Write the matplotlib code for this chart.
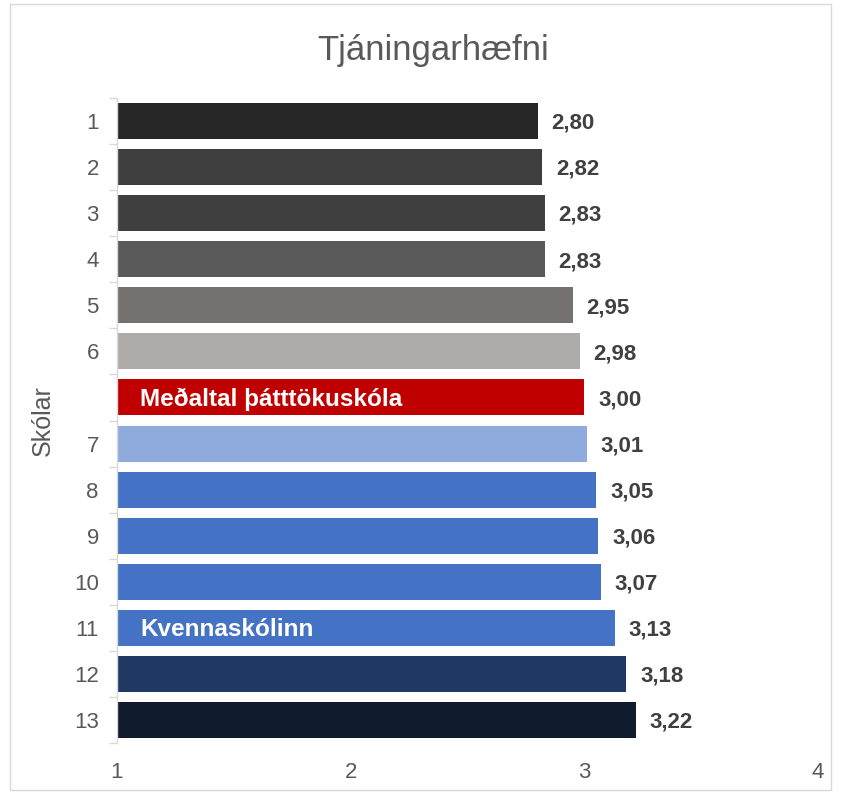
import matplotlib
matplotlib.use("Agg")
import matplotlib.pyplot as plt
from matplotlib.patches import Rectangle

# ================= Data =================
TITLE = "Tjáningarhæfni"
categories = ["1", "2", "3", "4", "5", "6", "", "7", "8", "9", "10", "11", "12", "13"]
values = [2.80, 2.82, 2.83, 2.83, 2.95, 2.98, 3.00, 3.01, 3.05, 3.06, 3.07, 3.13, 3.18, 3.22]
value_labels = ["2,80", "2,82", "2,83", "2,83", "2,95", "2,98", "3,00",
                "3,01", "3,05", "3,06", "3,07", "3,13", "3,18", "3,22"]
inside_labels = {6: "Meðaltal þátttökuskóla", 11: "Kvennaskólinn"}
colors = ["#262626", "#3f3f3f", "#404040", "#595959", "#767171", "#aeabab", "#c00000",
          "#8faadc", "#4472c4", "#4472c4", "#4472c4", "#4472c4", "#203864", "#111b2e"]
xticks = [1, 2, 3, 4]

plt.rcParams['font.family'] = ['Liberation Sans', 'DejaVu Sans']

fig = plt.figure(figsize=(8.41, 7.94), dpi=100)
ax = fig.add_axes([0.139, 0.0642, 0.8337, 0.8124])

y = list(range(len(values)))
ax.barh(y, [v - 1 for v in values], left=1, height=0.78, color=colors, zorder=2)

for i, v in enumerate(values):
    ax.text(v + 0.06, i + 0.05, value_labels[i], va='center', ha='left',
            fontsize=16, fontweight='bold', color='#404040')
for i, lab in inside_labels.items():
    ax.text(1.1, i + 0.04, lab, va='center', ha='left', fontsize=17.5,
            fontweight='bold', color='white')

ax.set_xlim(1, 4)
ax.set_ylim(len(values) - 0.5, -0.5)
ax.set_xticks(xticks)
ax.set_xticklabels([str(t) for t in xticks])
ax.set_yticks(y)
ax.set_yticklabels(categories)
ax.set_yticks([i - 0.5 for i in range(len(values) + 1)], minor=True)
ax.tick_params(axis='y', which='major', length=0, pad=13, labelsize=16, labelcolor='#595959')
ax.tick_params(axis='y', which='minor', length=6, color='#d9d9d9', width=1)
ax.tick_params(axis='x', length=0, pad=14, labelsize=16, labelcolor='#595959')

for s in ['top', 'right', 'bottom']:
    ax.spines[s].set_visible(False)
ax.spines['left'].set_color('#d9d9d9')
ax.spines['left'].set_linewidth(1)

ax.set_ylabel("Skólar", fontsize=18, color='#595959', labelpad=14)
fig.text(0.515, 0.937, TITLE, ha='center', va='center', fontsize=25, color='#595959')

# thin chart border
fig.patches.append(Rectangle((0.012, 0.005), 0.976, 0.99, transform=fig.transFigure,
                             fill=False, edgecolor='#d9d9d9', linewidth=1))

fig.savefig("out.png", dpi=100)
